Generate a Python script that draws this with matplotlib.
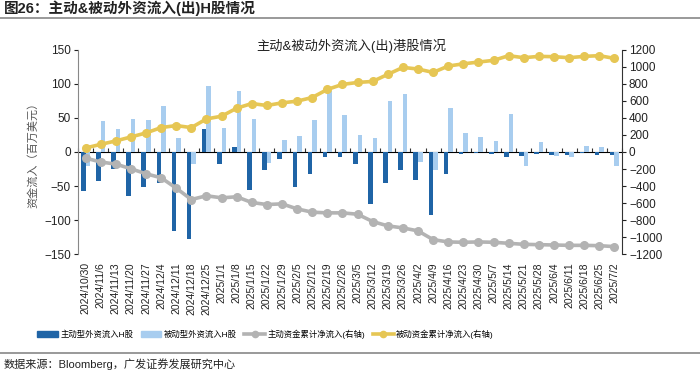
import matplotlib
matplotlib.use("Agg")
import matplotlib.pyplot as plt
from matplotlib.lines import Line2D
from matplotlib.patches import Patch
import numpy as np

plt.rcParams['font.family'] = ['Liberation Sans', 'Noto Sans CJK SC', 'DejaVu Sans']

dates = ["2024/10/30", "2024/11/6", "2024/11/13", "2024/11/20", "2024/11/27", "2024/12/4",
         "2024/12/11", "2024/12/18", "2024/12/25", "2025/1/1", "2025/1/8", "2025/1/15",
         "2025/1/22", "2025/1/29", "2025/2/5", "2025/2/12", "2025/2/19", "2025/2/26",
         "2025/3/5", "2025/3/12", "2025/3/19", "2025/3/26", "2025/4/2", "2025/4/9",
         "2025/4/16", "2025/4/23", "2025/4/30", "2025/5/7", "2025/5/14", "2025/5/21",
         "2025/5/28", "2025/6/4", "2025/6/11", "2025/6/18", "2025/6/25", "2025/7/2"]

active_flow = [-58, -42, -25, -65, -52, -46, -116, -128, 34, -18, 8, -56,
               -26, -11, -51, -33, -8, -7, -18, -76, -45, -26, -41, -93,
               -32, -3, -2, -3, -8, -6, -3, -4, -5, -2, -4, -5]
passive_flow = [-20, 46, 34, 49, 47, 67, 21, -18, 97, 35, 90, 48,
                -16, 17, 23, 47, 89, 55, 25, 21, 75, 85, -15, -26,
                64, 28, 22, 16, 56, -21, 14, -6, -8, 9, 8, -20]
active_cum = [-71, -118, -142, -197, -256, -303, -425, -559, -515, -539, -527, -594,
              -618, -610, -669, -708, -716, -716, -732, -818, -869, -893, -928, -1031,
              -1058, -1062, -1058, -1062, -1074, -1086, -1090, -1094, -1098, -1098, -1102, -1113]
passive_cum = [47, 90, 130, 177, 224, 287, 311, 287, 389, 421, 515, 570,
               547, 578, 598, 641, 736, 795, 818, 830, 913, 995, 976, 936,
               1011, 1037, 1058, 1078, 1133, 1109, 1125, 1121, 1109, 1125, 1133, 1101]

c_dark = '#1f64a6'
c_light = '#a8cdef'
c_gray = '#b3b3b3'
c_gold = '#e6c654'

fig = plt.figure(figsize=(7.0, 3.73), dpi=100)
ax = fig.add_axes([0.1114, 0.319, 0.7772, 0.547])
x = np.arange(len(dates))
w = 0.3
ax.bar(x - w / 2, active_flow, width=w, color=c_dark, zorder=2)
ax.bar(x + w / 2, passive_flow, width=w, color=c_light, zorder=2)
ax.set_xlim(-0.5, len(dates) - 0.5)
ax.set_ylim(-150, 150)
ax.set_yticks([-150, -100, -50, 0, 50, 100, 150])
ax.tick_params(axis='y', length=3, labelsize=8.5, colors='#222222', pad=2)
ax.spines['left'].set_color('#888888')
ax.spines['top'].set_visible(False)
ax.spines['right'].set_visible(False)
ax.spines['bottom'].set_visible(False)
ax.set_xticks(x)
ax.set_xticklabels(dates, rotation=90, fontsize=7.5, color='#222222')
ax.tick_params(axis='x', length=0, pad=6)

sec = ax.secondary_xaxis(0.5)
sec.set_xticks(np.arange(len(dates) + 1) - 0.5)
sec.set_xticklabels([])
sec.tick_params(axis='x', direction='out', length=3, color='#333333')
sec.spines['bottom'].set_color('#333333')

ax2 = ax.twinx()
ax2.plot(x, active_cum, color=c_gray, lw=2.6, marker='o', ms=5.5, zorder=3)
ax2.plot(x, passive_cum, color=c_gold, lw=2.6, marker='o', ms=5.5, zorder=3)
ax2.set_ylim(-1200, 1200)
ax2.set_yticks(np.arange(-1200, 1201, 200))
ax2.tick_params(axis='y', length=3, labelsize=8.5, colors='#222222', pad=2)
ax2.spines['right'].set_color('#333333')
for s in ['top', 'left', 'bottom']:
    ax2.spines[s].set_visible(False)

ax.set_ylabel('资金流入（百万美元）', fontsize=8, color='#555555', labelpad=4)

fig.text(0.502, 0.878, '主动&被动外资流入(出)港股情况', ha='center', va='center', fontsize=9.5, color='#222222')

fig.text(0.005, 0.978, '图26：主动&被动外资流入(出)H股情况', ha='left', va='center', fontsize=10.5,
         fontweight='bold', color='#222222')
fig.add_artist(Line2D([0, 1], [0.952, 0.952], color='#888888', lw=1.2))
fig.add_artist(Line2D([0, 1], [0.053, 0.053], color='#888888', lw=1.2))
fig.text(0.005, 0.024, '数据来源：Bloomberg，广发证券发展研究中心', ha='left', va='center', fontsize=8, color='#222222')

handles = [Patch(color=c_dark), Patch(color=c_light),
           Line2D([], [], color=c_gray, lw=2.6, marker='o', ms=4.5),
           Line2D([], [], color=c_gold, lw=2.6, marker='o', ms=4.5)]
labels = ['主动型外资流入H股', '被动型外资流入H股', '主动资金累计净流入(右轴)', '被动资金累计净流入(右轴)']
fig.legend(handles, labels, loc='center', bbox_to_anchor=(0.379, 0.104), ncol=4, frameon=False,
           fontsize=6, handlelength=2.5, handleheight=0.9, columnspacing=0.9, handletextpad=0.3,
           borderpad=0.2)

fig.savefig('out.png', dpi=100)
